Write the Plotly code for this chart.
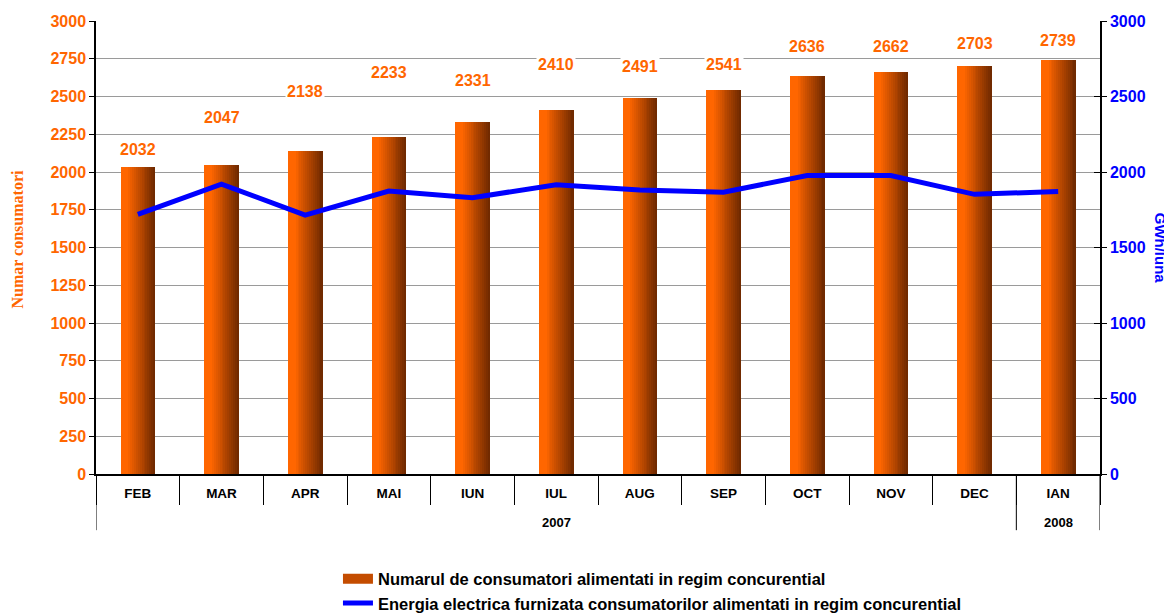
import plotly.graph_objects as go

months = ["FEB", "MAR", "APR", "MAI", "IUN", "IUL", "AUG", "SEP", "OCT", "NOV", "DEC", "IAN"]
years = ["2007"] * 11 + ["2008"]
consumatori = [2032, 2047, 2138, 2233, 2331, 2410, 2491, 2541, 2636, 2662, 2703, 2739]
energie = [1720, 1920, 1715, 1874, 1830, 1916, 1881, 1866, 1977, 1977, 1852, 1871]

bar_name = "Numarul de consumatori alimentati in regim concurential"
line_name = "Energia electrica furnizata consumatorilor alimentati in regim concurential"

# label heights (in left-axis units) as placed in the original chart
label_y = [2146, 2358, 2530, 2662, 2609, 2715, 2702, 2715, 2828, 2828, 2848, 2874]

fig = go.Figure()

# gradient bars built from thin slices
n = 18
bw = 0.41
step = bw / n
c0 = (255, 102, 0)
c1 = (108, 40, 0)
for i in range(n):
    t = (i + 0.5) / n
    f = 0 if t < 0.2 else (t - 0.2) / 0.8
    col = tuple(int(c0[k] + (c1[k] - c0[k]) * f) for k in range(3))
    fig.add_trace(go.Bar(
        x=months, y=consumatori,
        width=step * 1.15, offset=-bw / 2 + i * step,
        marker=dict(color="rgb(%d,%d,%d)" % col, line=dict(width=0)),
        name=bar_name, showlegend=False, hoverinfo="skip",
    ))

# legend proxy for bars (wide swatch)
fig.add_trace(go.Scatter(
    x=[None], y=[None], mode="lines", name=bar_name,
    line=dict(color="#C44C00", width=10), showlegend=True,
))

fig.add_trace(go.Scatter(
    x=months, y=energie, yaxis="y2", mode="lines",
    line=dict(color="#0000FF", width=5), name=line_name,
))

# empty trace so the inner tick marks of the right axis are drawn
fig.add_trace(go.Scatter(x=[months[0]], y=[None], yaxis="y3", showlegend=False,
                         hoverinfo="skip"))

for i, (v, ly) in enumerate(zip(consumatori, label_y)):
    fig.add_annotation(
        x=months[i], y=ly, xref="x", yref="y", text=str(v), showarrow=False,
        font=dict(family="Liberation Sans, Arial", size=16, color="#FF6600", weight="bold"),
        bgcolor="white", borderpad=1,
    )

# year row under the month labels, with group dividers
groups = []
for i, yv in enumerate(years):
    if groups and groups[-1][0] == yv:
        groups[-1][2] = i
    else:
        groups.append([yv, i, i])
bounds = set()
for yv, a, b in groups:
    fig.add_annotation(
        x=(a + b) / 2, y=-0.106, xref="x", yref="paper", text=yv, showarrow=False,
        xanchor="center", yanchor="middle",
        font=dict(family="Liberation Sans, Arial", size=13, color="black", weight="bold"),
    )
    bounds.add(a - 0.5)
    bounds.add(b + 0.5)
for bx in sorted(bounds):
    fig.add_shape(type="line", x0=bx, x1=bx, y0=0, y1=-0.124, xref="x", yref="paper",
                  line=dict(color="black", width=1))

fig.add_annotation(
    x=-0.078, y=0.517, xref="paper", yref="paper", text="<b>Numar consumatori</b>",
    textangle=-90, showarrow=False, xanchor="center", yanchor="middle",
    font=dict(family="Liberation Serif, Times New Roman", size=16, color="#FF6600"),
)
fig.add_annotation(
    x=1.060, y=0.499, xref="paper", yref="paper", text="<b>GWh/luna</b>",
    textangle=90, showarrow=False, xanchor="center", yanchor="middle",
    font=dict(family="Liberation Sans, Arial", size=15, color="#0000FF"),
)

# page body has an 8px default margin; size the figure to fill the window
fig.update_layout(
    width=1164, height=607,
    margin=dict(l=88, r=72, t=13, b=141, autoexpand=False),
    paper_bgcolor="white", plot_bgcolor="white",
    barmode="overlay", bargap=0,
    font=dict(family="Liberation Sans, Arial", color="black"),
    xaxis=dict(
        type="category", showline=True, linecolor="black", linewidth=1.5,
        ticks="outside", tickson="boundaries", ticklen=29, tickcolor="black",
        ticklabelstandoff=6,
        tickfont=dict(size=13.5, weight="bold", color="black"),
        showgrid=False, automargin=False, range=[-0.5, len(months) - 0.5],
    ),
    yaxis=dict(
        range=[0, 3000], dtick=250, showgrid=True, gridcolor="#9a9a9a", gridwidth=1,
        showline=True, linecolor="black", linewidth=1.5, ticks="outside", ticklen=5,
        tickcolor="black", automargin=False,
        tickfont=dict(size=16, weight="bold", color="#FF6600"), zeroline=False,
    ),
    yaxis2=dict(
        range=[0, 3000], dtick=500, overlaying="y", side="right", showgrid=False,
        showline=True, linecolor="black", linewidth=1.5, ticks="outside", ticklen=5,
        tickcolor="black", automargin=False,
        tickfont=dict(size=16, weight="bold", color="#0000FF"), zeroline=False,
    ),
    yaxis3=dict(
        range=[0, 3000], dtick=500, overlaying="y", side="right", showgrid=False,
        showline=False, ticks="inside", ticklen=6, tickcolor="black",
        showticklabels=False, automargin=False, zeroline=False,
    ),
    legend=dict(
        orientation="v", x=0.241, xanchor="left", y=-0.193, yanchor="top",
        font=dict(size=16.5, weight="bold", color="black"), bgcolor="rgba(0,0,0,0)",
        tracegroupgap=0,
    ),
    showlegend=True,
)

fig.write_html("out.html")
